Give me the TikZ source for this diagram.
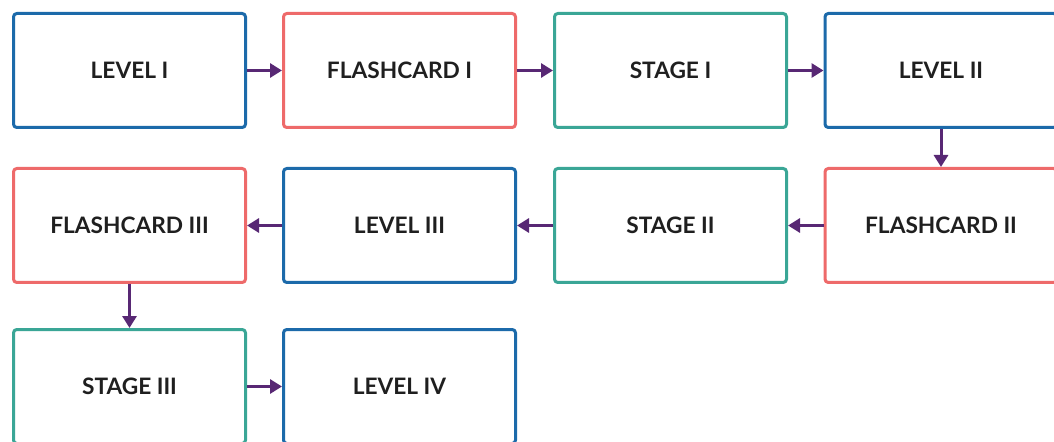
\documentclass[tikz,border=0pt]{standalone}
\usepackage{fontspec}
\setmainfont{Lato}
\usetikzlibrary{calc,arrows.meta,positioning}
\definecolor{lvlblue}{RGB}{28,106,170}
\definecolor{cardred}{RGB}{238,106,106}
\definecolor{stageteal}{RGB}{58,166,150}
\definecolor{arrpurple}{RGB}{88,40,116}

\begin{document}
\begin{tikzpicture}[x=0.75pt,y=-0.75pt,{box/.style={rectangle,rounded corners=2.5pt,line width=2.25pt,fill=white,minimum width=174pt,minimum height=85.5pt,font=\bfseries\fontsize{17}{19}\selectfont,text=black!88}},{level/.style={box,draw=lvlblue}},{card/.style={box,draw=cardred}},{stage/.style={box,draw=stageteal}},{flow/.style={arrpurple,line width=2.25pt,-{Triangle[length=9pt,width=10.5pt]}}}]
	%%canvas
	\useasboundingbox (0,0) rectangle (1054,442);
	\clip (0,0) rectangle (1054,442);
	%%first row
	\node [level] (l1) at (129.5,70.5) {LEVEL I};
	\node [card] (f1) at (399.5,70.5) {FLASHCARD I};
	\node [stage] (s1) at (670.5,70.5) {STAGE I};
	\node [level] (l2) at (941,70.5) {LEVEL II};
	%%second row
	\node [card] (f2) at ($(l2)+(0,155)$) {FLASHCARD II};
	\node [stage] (s2) at ($(s1)+(0,155)$) {STAGE II};
	\node [level] (l3) at ($(f1)+(0,155)$) {LEVEL III};
	\node [card] (f3) at ($(l1)+(0,155)$) {FLASHCARD III};
	%%third row
	\node [stage] (s3) at ($(f3)+(0,161)$) {STAGE III};
	\node [level] (l4) at ($(l3)+(0,161)$) {LEVEL IV};
	%%arrows
	\draw [flow] (l1) -- (f1);
	\draw [flow] (f1) -- (s1);
	\draw [flow] (s1) -- (l2);
	\draw [flow] (l2) -- (f2);
	\draw [flow] (f2) -- (s2);
	\draw [flow] (s2) -- (l3);
	\draw [flow] (l3) -- (f3);
	\draw [flow] (f3) -- (s3);
	\draw [flow] (s3) -- (l4);
\end{tikzpicture}
\end{document}
